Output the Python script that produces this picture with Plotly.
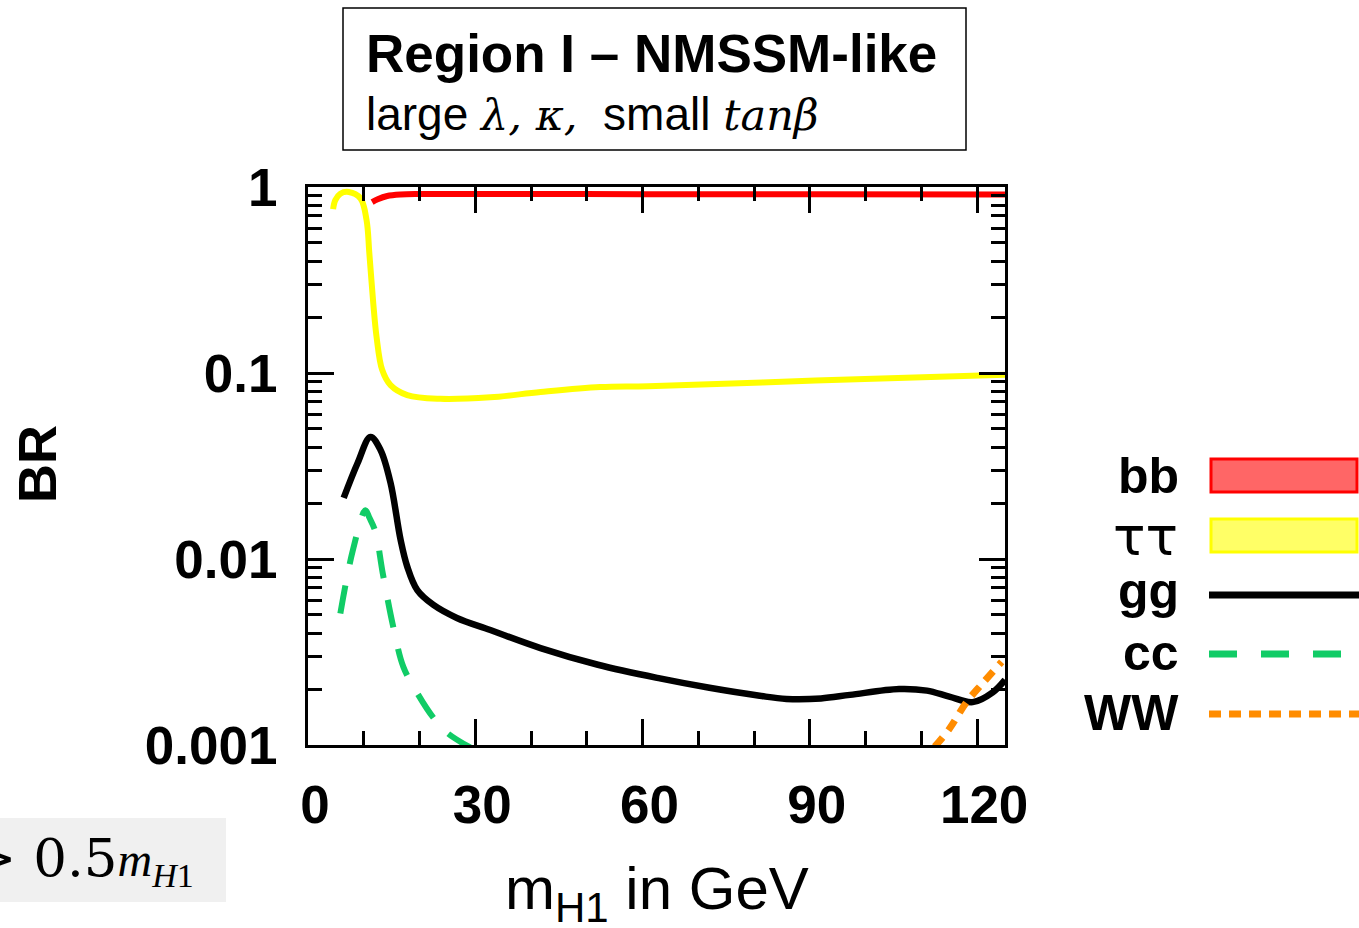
import plotly.graph_objects as go

# ---------------- data ----------------
bb_x = [11.5, 12.5, 14.2, 16.6, 20, 30, 60, 90, 125]
bb_y = [0.83, 0.86, 0.895, 0.912, 0.917, 0.917, 0.915, 0.913, 0.912]

tau_x = [4.5, 4.9, 5.8, 7.3, 9.4, 10.5, 11.0, 11.7, 12.3, 13.3, 14.8, 17.8, 23.7, 32.7, 41.7, 52.4, 61, 91, 125]
tau_y = [0.76, 0.85, 0.92, 0.94, 0.87, 0.665, 0.44, 0.238, 0.156, 0.104, 0.086, 0.076, 0.0726, 0.074, 0.079, 0.084, 0.085, 0.091, 0.098]

gg_x = [6.4, 8.9, 11.2, 13.0, 14.8, 16.6, 17.8, 19.6, 22.5, 26.7, 32.7, 41.7, 52, 63.1, 72, 81, 85.8, 92, 97.2, 106, 111, 115, 119.2, 122.8, 125]
gg_y = [0.0213, 0.0328, 0.0453, 0.0386, 0.0257, 0.0127, 0.0091, 0.0068, 0.00566, 0.00482, 0.00415, 0.00332, 0.0027, 0.00228, 0.00203, 0.00184, 0.00177, 0.00178, 0.00186, 0.0020, 0.00196, 0.00182, 0.0017, 0.00192, 0.00224]

cc_x = [5.8, 8.0, 10.3, 11.0, 12.1, 13.4, 15.3, 17.1, 19.6, 22.5, 25.0, 29.1]
cc_y = [0.0051, 0.011, 0.0183, 0.0167, 0.014, 0.0084, 0.0043, 0.00263, 0.0019, 0.0014, 0.00116, 0.00097]

ww_x = [112.4, 115, 118.1, 121, 124.4]
ww_y = [0.00098, 0.00122, 0.0017, 0.00215, 0.0028]

x_ticks = [0, 30, 60, 90, 120]
y_ticks = [0.001, 0.01, 0.1, 1]
y_ticktext = ["0.001", "0.01", "0.1", "1"]

legend_labels = ["bb", "ττ", "gg", "cc", "WW"]

# ---------------- figure ----------------
W, H = 1359, 928
L, R, T, B = 308, 354, 187, 183
PW, PH = W - L - R, H - T - B

def px(xp):
    return (xp - L) / PW

def py(yp):
    return (H - B - yp) / PH

SANS = "Liberation Sans, Arial, sans-serif"

fig = go.Figure()
fig.add_trace(go.Scatter(x=bb_x, y=bb_y, mode="lines", line=dict(color="#ff0000", width=6, shape="spline"), showlegend=False))
fig.add_trace(go.Scatter(x=tau_x, y=tau_y, mode="lines", line=dict(color="#ffff00", width=6, shape="spline"), showlegend=False))
fig.add_trace(go.Scatter(x=gg_x, y=gg_y, mode="lines", line=dict(color="#000000", width=6.5, shape="spline"), showlegend=False))
fig.add_trace(go.Scatter(x=cc_x, y=cc_y, mode="lines", line=dict(color="#11cc66", width=6, dash="28px,22px", shape="spline"), showlegend=False))
fig.add_trace(go.Scatter(x=ww_x, y=ww_y, mode="lines", line=dict(color="#ff8c00", width=7, dash="12px,9px", shape="spline"), showlegend=False))

fig.update_xaxes(
    range=[0, 125], tickvals=x_ticks, ticktext=[str(v) for v in x_ticks],
    ticks="inside", ticklen=26, tickwidth=2.5, tickcolor="black",
    minor=dict(dtick=10, ticks="inside", ticklen=14, tickwidth=2.5, tickcolor="black", showgrid=False),
    showline=True, linewidth=3, linecolor="black", mirror="allticks",
    showgrid=False, zeroline=False,
    tickfont=dict(family=SANS, size=53, color="black", weight="bold"),
    ticklabelstandoff=11, ticklabelshift=7,
)
fig.update_yaxes(
    type="log", range=[-3, 0], tickvals=y_ticks, ticktext=y_ticktext,
    ticks="inside", ticklen=26, tickwidth=2.5, tickcolor="black",
    minor=dict(dtick="D1", ticks="inside", ticklen=14, tickwidth=2.5, tickcolor="black", showgrid=False),
    showline=True, linewidth=3, linecolor="black", mirror="allticks",
    showgrid=False, zeroline=False,
    tickfont=dict(family=SANS, size=53, color="black", weight="bold"),
    ticklabelstandoff=17,
)

ann = []
# axis titles
ann.append(dict(text="m<sub>H1</sub> in GeV", x=0.5, y=py(893), xref="paper", yref="paper",
                xanchor="center", yanchor="middle", showarrow=False,
                font=dict(family=SANS, size=60, color="black")))
ann.append(dict(text="<b>BR</b>", x=px(37), y=py(464), xref="paper", yref="paper", textangle=-90,
                xanchor="center", yanchor="middle", showarrow=False,
                font=dict(family=SANS, size=54, color="black")))
# title box text (two lines)
ann.append(dict(text="<b>Region I – NMSSM-like</b>", x=px(364), y=py(54), xref="paper", yref="paper",
                xanchor="left", yanchor="middle", showarrow=False,
                font=dict(family=SANS, size=53, color="black")))
line2 = ("large "
         "<span style=\"font-family:'DejaVu Serif';font-style:italic;font-size:43px\">λ, κ,</span>"
         "  small "
         "<span style=\"font-family:'DejaVu Serif';font-style:italic;font-size:43px\">tanβ</span>")
ann.append(dict(text=line2, x=px(364), y=py(114), xref="paper", yref="paper",
                xanchor="left", yanchor="middle", showarrow=False,
                font=dict(family=SANS, size=46, color="black")))
# bottom-left fragment
frag = ("> 0.5"
        "<span style=\"font-family:'Liberation Serif';font-style:italic;font-size:48px\">m</span>"
        "<sub><span style=\"font-family:'Liberation Serif';font-size:34px\"><i>H</i>1</span></sub>")
ann.append(dict(text=frag, x=px(196), y=py(860), xref="paper", yref="paper",
                xanchor="right", yanchor="middle", showarrow=False,
                font=dict(family="DejaVu Serif, serif", size=53, color="black")))

# legend labels
leg_y = [476, 536, 591, 653, 713]
for lab, yy in zip(legend_labels, leg_y):
    if lab == "ττ":
        ann.append(dict(text=lab, x=px(1180), y=py(yy), xref="paper", yref="paper",
                        xanchor="right", yanchor="middle", showarrow=False,
                        font=dict(family="DejaVu Sans, sans-serif", size=54, color="black")))
    else:
        ann.append(dict(text="<b>%s</b>" % lab, x=px(1181), y=py(yy), xref="paper", yref="paper",
                        xanchor="right", yanchor="middle", showarrow=False,
                        font=dict(family=SANS, size=50, color="black")))

shapes = []
# title frame
shapes.append(dict(type="rect", xref="paper", yref="paper", x0=px(343), x1=px(966), y0=py(8), y1=py(150),
                   fillcolor="rgba(0,0,0,0)", line=dict(color="black", width=1.5)))
shapes.append(dict(type="rect", xref="paper", yref="paper", x0=px(-10), x1=px(226), y0=py(818), y1=py(902),
                   fillcolor="#f0f0f0", line=dict(width=0), layer="below"))
shapes.append(dict(type="rect", xref="paper", yref="paper", x0=px(1211), x1=px(1357), y0=py(459), y1=py(492),
                   fillcolor="#ff6666", line=dict(color="#ff0000", width=3)))
shapes.append(dict(type="rect", xref="paper", yref="paper", x0=px(1211), x1=px(1357), y0=py(519), y1=py(552),
                   fillcolor="#ffff66", line=dict(color="#ffff00", width=3)))
shapes.append(dict(type="line", xref="paper", yref="paper", x0=px(1209), x1=px(1365), y0=py(595), y1=py(595),
                   line=dict(color="black", width=7)))
shapes.append(dict(type="line", xref="paper", yref="paper", x0=px(1209), x1=px(1365), y0=py(654), y1=py(654),
                   line=dict(color="#11cc66", width=7, dash="28px,24px")))
shapes.append(dict(type="line", xref="paper", yref="paper", x0=px(1209), x1=px(1365), y0=py(714), y1=py(714),
                   line=dict(color="#ff8c00", width=7, dash="12px,8px")))

fig.update_layout(
    width=W, height=H, margin=dict(l=L, r=R, t=T, b=B, pad=0),
    paper_bgcolor="white", plot_bgcolor="white",
    annotations=ann, shapes=shapes, showlegend=False,
)

fig.write_html("out.html")
